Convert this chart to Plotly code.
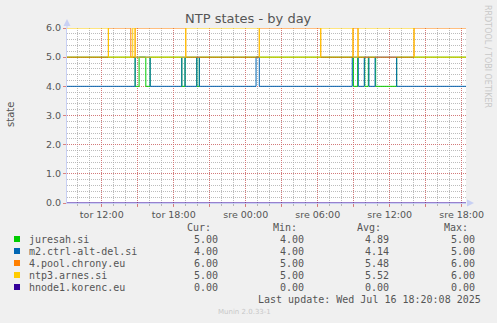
import plotly.graph_objects as go

# ---- data (hours since Tuesday 00:00) ----
series_names = ["juresah.si", "m2.ctrl-alt-del.si", "4.pool.chrony.eu", "ntp3.arnes.si", "hnode1.korenc.eu"]
series_colors = ["#00CC00", "#0066B3", "#FF8000", "#FFCC00", "#330099"]

juresah_t = [9.1, 14.78, 15.11, 15.67, 16.03, 18.67, 18.94, 19.92, 20.13, 32.97, 33.33, 33.92, 34.22, 34.83, 36.58, 42.36]
juresah_v = [5, 4, 5, 4, 5, 4, 5, 4, 5, 4, 5, 4, 5, 4, 5, 5]

m2_t = [9.1, 14.78, 16.03, 18.67, 18.94, 19.92, 20.13, 24.86, 25.13, 32.88, 33.38, 33.88, 34.27, 34.78, 36.58, 42.36]
m2_v = [4, 5, 4, 5, 4, 5, 4, 5, 4, 5, 4, 5, 4, 5, 4, 4]

pool_t = [9.1, 12.55, 14.42, 14.78, 19.0, 25.13, 30.25, 32.94, 33.36, 38.03, 42.36]
pool_v = [5, 6, 5, 6, 5, 6, 5, 6, 5, 6, 6]

arnes_t = [9.1, 12.55, 14.58, 14.78, 19.0, 25.13, 30.25, 32.94, 33.36, 38.03, 42.36]
arnes_v = [6, 5, 6, 5, 6, 5, 6, 5, 6, 5, 5]

hnode_t = [9.1, 42.36]
hnode_v = [0, 0]

cur_vals = ["5.00", "4.00", "6.00", "5.00", "0.00"]
min_vals = ["4.00", "4.00", "5.00", "5.00", "0.00"]
avg_vals = ["4.89", "4.14", "5.48", "5.52", "0.00"]
max_vals = ["5.00", "5.00", "6.00", "6.00", "0.00"]

x_tickvals = [12, 15, 18, 21, 24, 27, 30, 33, 36, 39, 42]
x_ticktext = ["tor 12:00", "", "tor 18:00", "", "sre 00:00", "", "sre 06:00", "", "sre 12:00", "", "sre 18:00"]
y_tickvals = [0, 1, 2, 3, 4, 5, 6]

title_text = "NTP states - by day"
last_update = "Last update: Wed Jul 16 18:20:08 2025"
version_text = "Munin 2.0.33-1"
side_text = "RRDTOOL / TOBI OETIKER"

# ---- layout geometry ----
W, H = 497, 323
L, R, T, B = 67, 466, 28, 203


def px(x):
    return (x - L) / (R - L)


def py(y):
    return (B - y) / (B - T)


fig = go.Figure()
all_t = [juresah_t, m2_t, pool_t, arnes_t, hnode_t]
all_v = [juresah_v, m2_v, pool_v, arnes_v, hnode_v]
for name, col, t, v in zip(series_names, series_colors, all_t, all_v):
    fig.add_trace(go.Scatter(x=t, y=v, mode="lines", name=name,
                             line=dict(color=col, width=1, shape="hv"),
                             hoverinfo="skip", showlegend=False))

major_grid = "rgba(215,110,110,0.85)"
minor_grid = "rgba(165,165,165,0.75)"
axis_col = "#C8D0F4"
font_col = "#555555"

fig.update_layout(
    width=W, height=H,
    margin=dict(l=L, r=W - R, t=T, b=H - B),
    paper_bgcolor="#F0F0F0", plot_bgcolor="white",
    font=dict(family="DejaVu Sans", color=font_col, size=9.5),
    xaxis=dict(range=[9.1, 42.36], tickmode="array", tickvals=x_tickvals, ticktext=x_ticktext,
               showgrid=True, gridcolor=major_grid, griddash="1px,1px", gridwidth=1,
               ticks="outside", ticklen=3, tickcolor=major_grid,
               showline=True, linecolor=axis_col, linewidth=1, zeroline=False,
               tickfont=dict(size=9.5, color=font_col),
               minor=dict(tickmode="linear", tick0=0, dtick=1, showgrid=True,
                          gridcolor=minor_grid, griddash="1px,1px", gridwidth=1,
                          ticks="outside", ticklen=2, tickcolor=minor_grid)),
    yaxis=dict(range=[0, 6], tickmode="array", tickvals=y_tickvals, tickformat=".1f",
               showgrid=True, gridcolor=major_grid, griddash="1px,1px", gridwidth=1,
               ticks="outside", ticklen=3, tickcolor=major_grid,
               showline=True, linecolor=axis_col, linewidth=1, zeroline=False,
               tickfont=dict(size=9.5, color=font_col),
               minor=dict(tickmode="linear", tick0=0, dtick=0.2, showgrid=True,
                          gridcolor=minor_grid, griddash="1px,1px", gridwidth=1)),
)

ann = []
# title
ann.append(dict(x=px(248), y=py(18.5), xref="paper", yref="paper", text=title_text, showarrow=False,
                xanchor="center", yanchor="middle", font=dict(size=13, color="#555555")))
# y title
ann.append(dict(x=px(10), y=py(115), xref="paper", yref="paper", text="state", showarrow=False,
                textangle=-90, xanchor="center", yanchor="middle", font=dict(size=10, color="#555555")))
# side text
ann.append(dict(x=px(488), y=py(56), xref="paper", yref="paper", text=side_text, showarrow=False,
                textangle=90, xanchor="center", yanchor="middle", font=dict(size=8, color="#C8C8C8")))

mono = dict(family="DejaVu Sans Mono", size=10, color="#555555")
# headers
for txt, xr in [("Cur:", 213), ("Min:", 299), ("Avg:", 383), ("Max:", 470)]:
    ann.append(dict(x=px(xr), y=py(227.5), xref="paper", yref="paper", text=txt, showarrow=False,
                    xanchor="right", yanchor="middle", font=mono))
row_y = [239.5, 251.5, 263.5, 275.5, 287.5]
shapes = []
for i, name in enumerate(series_names):
    yy = row_y[i]
    ann.append(dict(x=px(26.5), y=py(yy), xref="paper", yref="paper", text=name, showarrow=False,
                    xanchor="left", yanchor="middle", font=mono))
    for vals, xr in [(cur_vals, 220), (min_vals, 306), (avg_vals, 391), (max_vals, 477)]:
        ann.append(dict(x=px(xr), y=py(yy), xref="paper", yref="paper", text=vals[i], showarrow=False,
                        xanchor="right", yanchor="middle", font=mono))
    shapes.append(dict(type="rect", xref="paper", yref="paper",
                       x0=px(14), x1=px(20), y0=py(yy + 2.5), y1=py(yy - 3.5),
                       fillcolor=series_colors[i], line=dict(width=0)))
ann.append(dict(x=px(482.5), y=py(299.5), xref="paper", yref="paper", text=last_update, showarrow=False,
                xanchor="right", yanchor="middle", font=mono))
ann.append(dict(x=px(244.5), y=py(311.5), xref="paper", yref="paper", text=version_text, showarrow=False,
                xanchor="center", yanchor="middle", font=dict(family="DejaVu Sans", size=7, color="#C8C8C8")))

# axis arrows
shapes.append(dict(type="path", xref="paper", yref="paper",
                   path=f"M {px(63.5)} {py(26)} L {px(70.5)} {py(26)} L {px(67)} {py(19)} Z",
                   fillcolor=axis_col, line=dict(width=0)))
shapes.append(dict(type="path", xref="paper", yref="paper",
                   path=f"M {px(467)} {py(199.5)} L {px(467)} {py(206.5)} L {px(474)} {py(203)} Z",
                   fillcolor=axis_col, line=dict(width=0)))
shapes.append(dict(type="line", xref="paper", yref="paper", x0=0, x1=0, y0=1, y1=py(24),
                   line=dict(color=axis_col, width=1)))

fig.update_layout(annotations=ann, shapes=shapes)
fig.write_html("out.html")
